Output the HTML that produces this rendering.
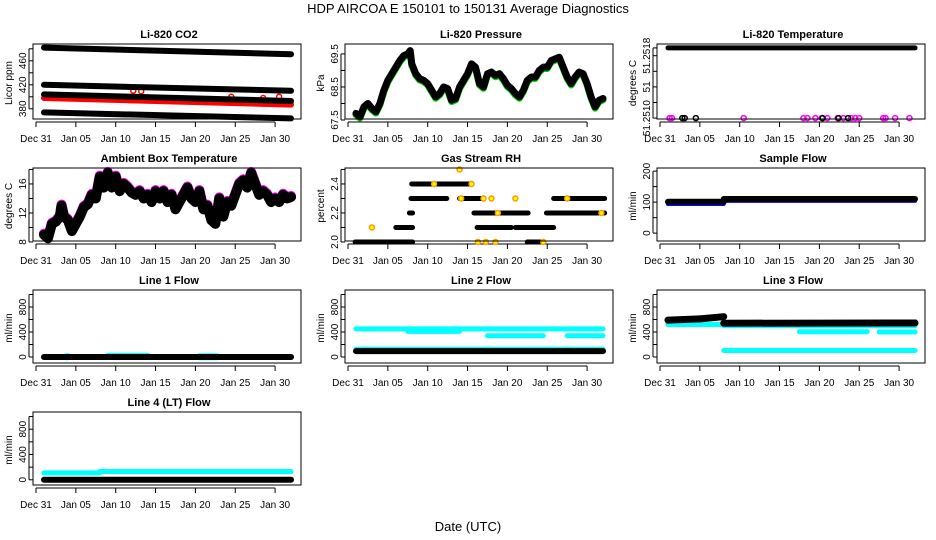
<!DOCTYPE html>
<html><head><meta charset="utf-8"><style>
html,body{margin:0;padding:0;background:#fff;}
svg{display:block;font-family:"Liberation Sans",sans-serif;}
</style></head><body>
<svg id="c" width="936" height="540" viewBox="0 0 936 540">
<text x="468" y="13" font-size="13" text-anchor="middle">HDP    AIRCOA E    150101 to 150131    Average Diagnostics</text>
<text x="468" y="531" font-size="13" text-anchor="middle">Date (UTC)</text>
</svg>
<script>
// x tick labels (days since Dec 31)
const xTickDays = [0,5,10,15,20,25,30];
const xTickLabels = ["Dec 31","Jan 05","Jan 10","Jan 15","Jan 20","Jan 25","Jan 30"];
// CO2 bands: [startDay, startVal, endDay, endVal]
const co2Black = [[1,482,32,471],[1,420,32,410],[1,404,32,393],[1,374,32,364]];
const co2Red = [[1,398,32,387]];
const co2RedDots = [[12.2,410],[13.2,409],[24.5,400],[28.5,398],[30.5,400]];
// pressure
const presDays = [1,1.5,2,2.5,3,3.5,4,4.5,5,5.5,6,6.5,7,7.5,7.8,8,8.5,9,9.5,10,10.5,11,11.5,12,12.5,13,13.5,14,14.5,15,15.5,16,16.5,17,17.5,18,18.5,19,19.5,20,20.5,21,21.5,22,22.5,23,23.5,24,24.5,25,25.5,26,26.5,27,27.5,28,28.5,29,29.5,30,30.5,31,31.5,32];
const presVals = [67.7,67.6,67.9,68.0,67.85,67.75,68.0,68.4,68.7,68.9,69.1,69.3,69.45,69.5,69.6,69.2,68.9,68.75,68.7,68.6,68.4,68.2,68.3,68.5,68.45,68.1,68.15,68.5,68.7,68.9,69.2,69.1,68.6,68.5,68.9,68.95,68.85,68.9,68.75,68.55,68.45,68.3,68.2,68.4,68.7,68.8,68.8,69.0,69.1,69.1,69.3,69.35,69.4,69.1,68.8,68.6,68.8,68.95,68.9,68.6,68.2,67.9,68.1,68.15];
// Li-820 temperature outliers
const tempMagenta = [1.2,1.5,10.5,18,18.5,19.5,20.3,21,22.3,23,24,24.5,25,28,28.3,29.5,31.3];
const tempBlackLow = [2.8,3.1,4.5,20.4,22.4,23.6];
// ambient
const ambDays = [1,1.5,2,2.5,3,3.2,3.5,4,4.5,5,5.5,6,6.5,7,7.5,8,8.5,9,9.5,10,10.5,11,11.5,12,12.5,13,13.5,14,14.5,15,15.5,16,16.5,17,17.5,18,18.5,19,19.5,20,20.5,21,21.5,22,22.5,23,23.5,24,24.5,25,25.5,26,26.5,27,27.5,28,28.5,29,29.5,30,30.5,31,31.5,32];
const ambVals = [9,8.5,10.5,10.8,11.5,13,11.5,11,9.5,10.5,11.5,12.8,13.2,14.5,14,17,15.5,17.5,15.5,17,15,16,15.5,14.8,14.5,15,14,14.5,13.5,15,14,15,13.5,14.5,12.5,13.5,14.5,15.5,14,13.5,15,12.5,13,11,10.5,14,11.5,13.5,13,14.5,16,16.5,15.5,17.5,16,14.5,15,14.5,13.5,14,13.5,14.5,14,14.2];
// RH segments [start,end,value]
const rhSegs = [[0.9,8.1,2.0],[6,8.1,2.1],[7.7,8.1,2.2],[7.9,12.4,2.3],[8,10.8,2.4],[11,15.5,2.4],[14,17,2.3],[25.8,32.2,2.3],[15.8,22.6,2.2],[24.9,32.2,2.2],[16.2,20.5,2.1],[21,25.8,2.1],[22.5,24.5,2.0]];
const rhDots = [[3,2.1],[14,2.5],[18,2.3],[21,2.3],[16.3,2.0],[17.3,2.0],[18.5,2.0],[10.8,2.4],[15.5,2.4],[14.2,2.3],[17,2.3],[27.5,2.3],[31.8,2.2],[18.8,2.2],[24.5,2.0]];
// sample flow [start,end,value]
const sfBlack = [[1,8,101],[8,32,110]];
const sfBlue = [[1,8,94],[8,32,104]];
// line flows [start,end,value]
const l1Black = [[1,32,0]];
const l1Cyan = [[3.8,4,5],[9,14,10],[20.5,22.7,5]];
const l2Black = [[1,32,95]];
const l2Cyan = [[1,32,125],[1,32,450],[7.5,14,410],[17.5,24.5,340],[27.5,32,340]];
const l3Cyan = [[1,8,520],[8,32,500],[17.5,26,405],[27.5,32,400],[8,32,105]];
const l3Black = [[1,5,590,610],[5,8,610,645],[8,32,540,545]];
const l4Cyan = [[1,8,110],[8,32,130]];
const l4Black = [[1,32,0]];

const NS="http://www.w3.org/2000/svg";
const svg=document.getElementById('c');
function mk(tag,attrs,parent){const e=document.createElementNS(NS,tag);for(const k in attrs)e.setAttribute(k,attrs[k]);(parent||svg).appendChild(e);return e;}
const colX=[36,348,660];
const rows=[{top:44,bot:122},{top:168,bot:244},{top:290,bot:366},{top:412,bot:488}];
function panel(col,row,title,ylab,ymin,ymax,ticks,labels,name){
  const ox=colX[col], r=rows[row];
  const g=mk('g',{});
  
  
  const x=d=>ox+d*7.97;
  const y=v=>r.bot-(v-ymin)/(ymax-ymin)*(r.bot-r.top);
  const t=mk('text',{x:ox+133,y:r.top-6,'font-size':11,'font-weight':'bold','text-anchor':'middle'},g);t.textContent=title;
  
  
  const yl=mk('text',{transform:`translate(${ox-24},${(r.top+r.bot)/2}) rotate(-90)`,'font-size':10,'text-anchor':'middle'},g);yl.textContent=ylab;
  
  
  ticks.forEach((v,i)=>{mk('line',{x1:ox-7,x2:ox-3,y1:y(v),y2:y(v),stroke:'#000'},g);
    if(labels[i]!==''){const tl=mk('text',{transform:`translate(${ox-10},${y(v)}) rotate(-90)`,'font-size':10,'text-anchor':'middle'},g);tl.textContent=labels[i];
    
    }});
  mk('line',{x1:ox-7,x2:ox-7,y1:y(ticks[0]),y2:y(ticks[ticks.length-1]),stroke:'#000'},g);
  xTickDays.forEach((d,i)=>{mk('line',{x1:x(d),x2:x(d),y1:r.bot,y2:r.bot+5,stroke:'#000'},g);
    const tl=mk('text',{x:x(d),y:r.bot+20,'font-size':10,'text-anchor':'middle'},g);tl.textContent=xTickLabels[i];
    
    });
  mk('line',{x1:x(0),x2:x(30),y1:r.bot,y2:r.bot,stroke:'#000'},g);
  const data=mk('g',{},g);
  mk('rect',{x:ox-3,y:r.top,width:268,height:r.bot-3-r.top,fill:'none',stroke:'#000'},g);
  return {x,y,g:data};
}
function seg(p,s,e,v1,v2,color,w,nm){const l=mk('line',{x1:p.x(s),x2:p.x(e),y1:p.y(v1),y2:p.y(v2),stroke:color,'stroke-width':w,'stroke-linecap':'round'},p.g);
  
  }
function dot(p,d,v,color,nm,fill){const c=mk('circle',{cx:p.x(d),cy:p.y(v),r:2.5,fill:fill||'none',stroke:color,'stroke-width':1.5},p.g);
  
  }
function poly(p,ds,vs,color,w,nm){const pts=ds.map((d,i)=>p.x(d)+','+p.y(vs[i])).join(' ');
  const l=mk('polyline',{points:pts,fill:'none',stroke:color,'stroke-width':w,'stroke-linejoin':'round','stroke-linecap':'round'},p.g);
  
  }

// CO2
let p=panel(0,0,'Li-820 CO2','Licor ppm',358,488,[380,400,420,440,460,480],['380','','420','','460',''],'co2-panel');
co2Red.forEach(s=>seg(p,s[0],s[2],s[1],s[3],'#f00',6,'co2-red-band'));
co2RedDots.forEach(d=>dot(p,d[0],d[1],'#f00','co2-red-point'));
co2Black.forEach(s=>seg(p,s[0],s[2],s[1],s[3],'#000',6,'co2-black-band'));
// Pressure
p=panel(1,0,'Li-820 Pressure','kPa',67.44,69.8,[67.5,68,68.5,69,69.5],['67.5','','68.5','','69.5'],'pressure-panel');
poly(p,presDays,presVals.map(v=>v-0.04),'#0c0',7,'pressure-green-line');
poly(p,presDays,presVals,'#000',7,'pressure-line');
// Li-820 temp
p=panel(2,0,'Li-820 Temperature','degrees C',0,1,[0.05,0.25,0.45,0.65,0.85,0.95],['51.2510','','51','','51.2518',''],'li820-temp-panel');
seg(p,1,32,0.95,0.95,'#000',5,'temp-band');
tempMagenta.forEach(d=>dot(p,d,0.05,'#f0f','temp-magenta-point'));
tempBlackLow.forEach(d=>dot(p,d,0.05,'#000','temp-black-point'));
// Ambient
p=panel(0,1,'Ambient Box Temperature','degrees C',7.72,18.2,[8,10,12,14,16,18],['8','','12','','16',''],'ambient-panel');
poly(p,ambDays,ambVals.map(v=>v+0.15),'#e0e',10,'ambient-magenta-line');
poly(p,ambDays,ambVals,'#000',10,'ambient-line');
// RH
p=panel(1,1,'Gas Stream RH','percent',1.986,2.51,[2.0,2.1,2.2,2.3,2.4,2.5],['2.0','','2.2','','2.4',''],'rh-panel');
rhSegs.forEach(s=>seg(p,s[0],s[1],s[2],s[2],'#000',5,'rh-segment'));
rhDots.forEach(d=>dot(p,d[0],d[1],'#f90','rh-orange-point','#ff0'));
// Sample flow
p=panel(2,1,'Sample Flow','ml/min',-35,210,[0,50,100,150,200],['0','','100','','200'],'sample-flow-panel');
sfBlue.forEach(s=>seg(p,s[0],s[1],s[2],s[2],'#00f',4,'sample-flow-blue'));
sfBlack.forEach(s=>seg(p,s[0],s[1],s[2],s[2],'#000',6,'sample-flow-black'));
const ft=[0,200,400,600,800,1000], fl=['0','','400','','800',''];
// Line 1
p=panel(0,2,'Line 1 Flow','ml/min',-144,1072,ft,fl,'line1-flow-panel');
l1Cyan.forEach(s=>seg(p,s[0],s[1],s[2],s[2],'#0ff',7,'line1-cyan'));
l1Black.forEach(s=>seg(p,s[0],s[1],s[2],s[2],'#000',6,'line1-black'));
// Line 2
p=panel(1,2,'Line 2 Flow','ml/min',-144,1072,ft,fl,'line2-flow-panel');
l2Cyan.forEach(s=>seg(p,s[0],s[1],s[2],s[2],'#0ff',5,'line2-cyan'));
l2Black.forEach(s=>seg(p,s[0],s[1],s[2],s[2],'#000',6,'line2-black'));
// Line 3
p=panel(2,2,'Line 3 Flow','ml/min',-144,1072,ft,fl,'line3-flow-panel');
l3Cyan.forEach(s=>seg(p,s[0],s[1],s[2],s[2],'#0ff',5,'line3-cyan'));
l3Black.forEach(s=>seg(p,s[0],s[1],s[2],s[3],'#000',7,'line3-black'));
// Line 4
p=panel(0,3,'Line 4 (LT) Flow','ml/min',-130,1072,ft,fl,'line4-flow-panel');
l4Cyan.forEach(s=>seg(p,s[0],s[1],s[2],s[2],'#0ff',5,'line4-cyan'));
l4Black.forEach(s=>seg(p,s[0],s[1],s[2],s[2],'#000',6,'line4-black'));
</script>
</body></html>
